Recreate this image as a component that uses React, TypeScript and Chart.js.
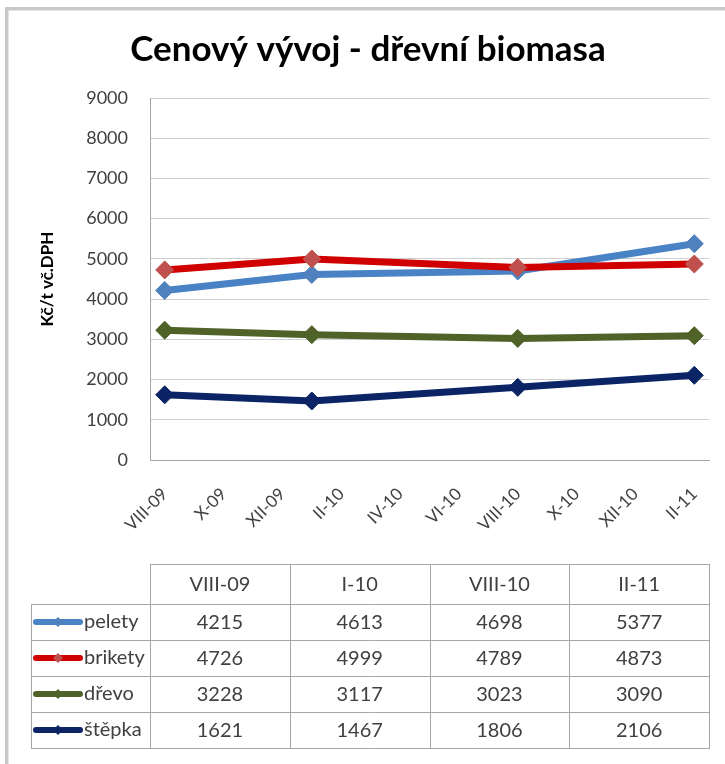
import React, { useEffect, useRef } from "react";
import { Chart, registerables } from "chart.js";

Chart.register(...registerables);

const TITLE = "Cenový vývoj - dřevní biomasa";
const Y_TITLE = "Kč/t vč.DPH";

const tickLabels = ["VIII-09", "X-09", "XII-09", "II-10", "IV-10", "VI-10", "VIII-10", "X-10", "XII-10", "II-11"];
const pointLabels = ["VIII-09", "I-10", "VIII-10", "II-11"];
const seriesNames = ["pelety", "brikety", "dřevo", "štěpka"];

const pelety = [4215, 4613, 4698, 5377];
const brikety = [4726, 4999, 4789, 4873];
const drevo = [3228, 3117, 3023, 3090];
const stepka = [1621, 1467, 1806, 2106];

const seriesValues = [pelety, brikety, drevo, stepka];
const lineColors = ["#4a82c6", "#d00000", "#4f6228", "#0a2465"];
const markerColors = ["#4f81bd", "#c0504d", "#4f6228", "#0a2465"];

const Y_MIN = 0;
const Y_MAX = 9000;
const Y_STEP = 1000;

const FONT = "Lato, 'Open Sans', sans-serif";
const TEXT_COLOR = "#404040";

const ROMAN: Record<string, number> = { I: 1, V: 5, X: 10 };
function romanToInt(s: string): number {
  let total = 0;
  for (let i = 0; i < s.length; i++) {
    const v = ROMAN[s[i]];
    const next = ROMAN[s[i + 1]] || 0;
    total += v < next ? -v : v;
  }
  return total;
}
function monthIndex(label: string): number {
  const [r, yy] = label.split("-");
  return (2000 + parseInt(yy, 10)) * 12 + romanToInt(r) - 1;
}

const BASE = monthIndex(tickLabels[0]);
const tickValues = tickLabels.map((l) => monthIndex(l) - BASE);
const pointX = pointLabels.map((l) => monthIndex(l) - BASE);

const framePlugin = {
  id: "frame",
  beforeDraw(chart: any) {
    const ctx = chart.ctx;
    ctx.save();
    ctx.fillStyle = "#ffffff";
    ctx.fillRect(0, 0, chart.width, chart.height);
    ctx.fillStyle = "#c8c8c8";
    ctx.fillRect(5, 7, 3, chart.height - 7);
    ctx.fillRect(5, 7, chart.width - 5, 3);
    ctx.fillStyle = "#e4e4e4";
    ctx.fillRect(8, 10, 1, chart.height - 10);
    ctx.fillRect(8, 10, chart.width - 8, 1);
    ctx.restore();
  },
};

const titlePlugin = {
  id: "customTitle",
  afterDraw(chart: any) {
    const ctx = chart.ctx;
    ctx.save();
    ctx.font = `bold 35px ${FONT}`;
    ctx.fillStyle = "#000000";
    ctx.textAlign = "center";
    ctx.textBaseline = "middle";
    ctx.fillText(TITLE, 368, 50);
    ctx.restore();
  },
};

const tablePlugin = {
  id: "dataTable",
  afterDraw(chart: any) {
    const ctx = chart.ctx;
    const { left, right } = chart.chartArea;
    const n = pointLabels.length;
    const colW = (right - left) / n;
    const legendLeft = 31;
    const top = 564;
    const headH = 40;
    const rowH = 36;
    const rows = seriesNames.length;
    const bottom = top + headH + rows * rowH;
    ctx.save();
    ctx.strokeStyle = "#a6a6a6";
    ctx.lineWidth = 1;
    const hl = (x1: number, x2: number, y: number) => {
      ctx.beginPath();
      ctx.moveTo(Math.round(x1), Math.round(y) + 0.5);
      ctx.lineTo(Math.round(x2) + 1, Math.round(y) + 0.5);
      ctx.stroke();
    };
    const vl = (x: number, y1: number, y2: number) => {
      ctx.beginPath();
      ctx.moveTo(Math.round(x) + 0.5, Math.round(y1));
      ctx.lineTo(Math.round(x) + 0.5, Math.round(y2) + 1);
      ctx.stroke();
    };
    hl(left, right, top);
    for (let r = 0; r <= rows; r++) hl(legendLeft, right, top + headH + r * rowH);
    vl(legendLeft, top + headH, bottom);
    for (let c = 0; c <= n; c++) vl(left + c * colW, top, bottom);

    ctx.fillStyle = TEXT_COLOR;
    ctx.font = `20px ${FONT}`;
    ctx.textBaseline = "middle";
    ctx.textAlign = "center";
    for (let c = 0; c < n; c++) {
      ctx.fillText(pointLabels[c], left + (c + 0.5) * colW, top + headH / 2 + 1);
    }
    for (let r = 0; r < rows; r++) {
      const cy = top + headH + r * rowH + rowH / 2;
      ctx.fillStyle = TEXT_COLOR;
      ctx.textAlign = "center";
      for (let c = 0; c < n; c++) {
        ctx.fillText(String(seriesValues[r][c]), left + (c + 0.5) * colW, cy + 1);
      }
      // legend key
      ctx.strokeStyle = lineColors[r];
      ctx.lineWidth = 6;
      ctx.lineCap = "round";
      ctx.beginPath();
      ctx.moveTo(36, cy);
      ctx.lineTo(80, cy);
      ctx.stroke();
      ctx.fillStyle = markerColors[r];
      ctx.beginPath();
      ctx.moveTo(58, cy - 5);
      ctx.lineTo(63, cy);
      ctx.lineTo(58, cy + 5);
      ctx.lineTo(53, cy);
      ctx.closePath();
      ctx.fill();
      ctx.fillStyle = TEXT_COLOR;
      ctx.textAlign = "left";
      ctx.fillText(seriesNames[r], 84, cy);
      ctx.strokeStyle = "#a6a6a6";
      ctx.lineWidth = 1;
      ctx.lineCap = "butt";
    }
    ctx.restore();
  },
};

export default function App() {
  const canvasRef = useRef<HTMLCanvasElement | null>(null);

  useEffect(() => {
    if (!canvasRef.current) return;
    const datasets = seriesNames.map((name, i) => ({
      label: name,
      data: pointX.map((x, j) => ({ x, y: seriesValues[i][j] })),
      borderColor: lineColors[i],
      backgroundColor: markerColors[i],
      borderWidth: 7,
      pointStyle: "rectRot" as const,
      pointRadius: 9,
      pointBackgroundColor: markerColors[i],
      pointBorderColor: markerColors[i],
      pointBorderWidth: 1,
      tension: 0,
      fill: false,
      order: seriesNames.length - i,
    }));

    const chart = new Chart(canvasRef.current, {
      type: "line",
      data: { datasets },
      options: {
        animation: false,
        responsive: false,
        devicePixelRatio: 1,
        layout: { padding: { top: 98, right: 16, bottom: 0, left: 0 } },
        plugins: {
          legend: { display: false },
          title: { display: false },
          tooltip: { enabled: false },
        },
        scales: {
          x: {
            type: "linear",
            min: tickValues[0] - 0.5,
            max: tickValues[tickValues.length - 1] + 0.5,
            afterBuildTicks: (s: any) => {
              s.ticks = tickValues.map((v) => ({ value: v }));
            },
            afterFit: (s: any) => {
              s.height = 304;
              s.paddingLeft = 0;
              s.paddingRight = 0;
            },
            ticks: {
              autoSkip: false,
              maxRotation: 45,
              minRotation: 45,
              padding: 24,
              color: TEXT_COLOR,
              font: { family: FONT, size: 17 },
              callback: (_v: any, i: number) => tickLabels[i],
            },
            grid: { display: false, drawTicks: false },
            border: { display: true, color: "#a6a6a6", width: 1 },
          },
          y: {
            min: Y_MIN,
            max: Y_MAX,
            afterFit: (s: any) => {
              s.width = 150;
            },
            ticks: {
              stepSize: Y_STEP,
              padding: 22,
              color: TEXT_COLOR,
              font: { family: FONT, size: 18 },
              callback: (v: any) => String(v),
            },
            grid: { color: "#cfcfcf", drawTicks: false },
            border: { display: true, color: "#a6a6a6", width: 1 },
            title: {
              display: true,
              text: Y_TITLE,
              color: "#000000",
              font: { family: FONT, size: 17, weight: "bold" },
              padding: { top: 37, bottom: 0 },
            },
          },
        },
      },
      plugins: [framePlugin, titlePlugin, tablePlugin],
    });
    return () => chart.destroy();
  }, []);

  return (
    <div style={{ position: "absolute", left: 0, top: 0, width: 725, height: 764 }}>
      <canvas ref={canvasRef} width={725} height={764} style={{ display: "block" }} />
    </div>
  );
}
